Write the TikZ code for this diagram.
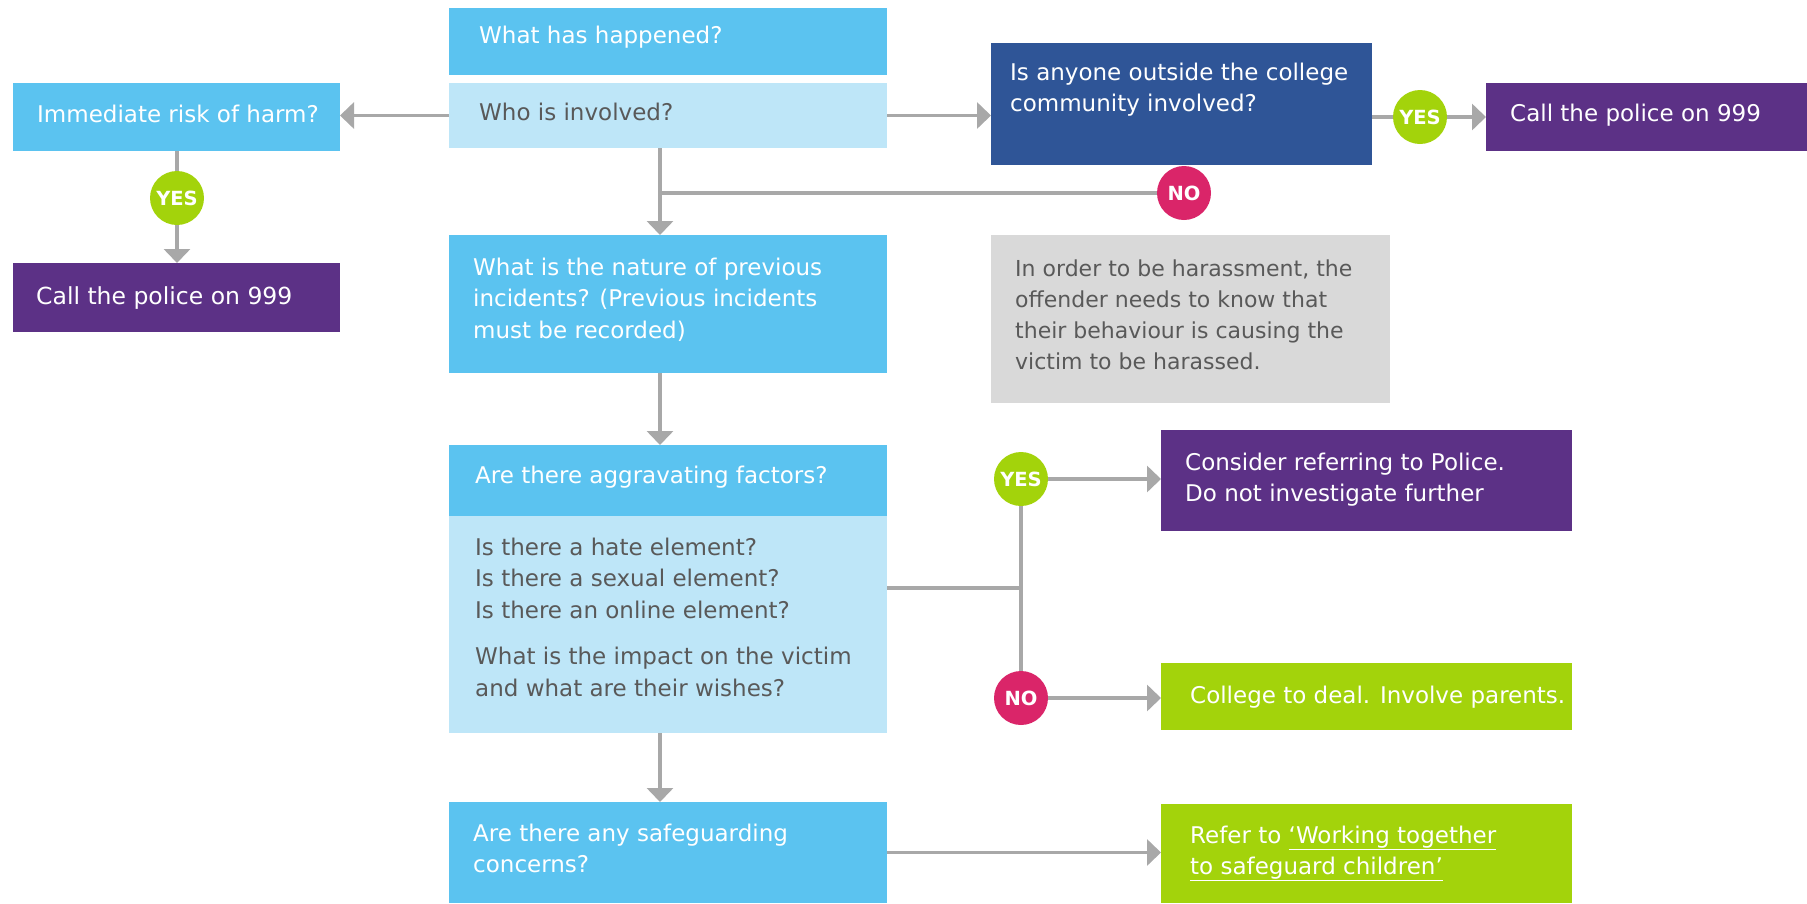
\documentclass[tikz,border=0pt]{standalone}
\usepackage{fontspec}
\setmainfont{DejaVu Sans}
\usetikzlibrary{arrows.meta}
\definecolor{hblue}{HTML}{5BC3F0}
\definecolor{pblue}{HTML}{BEE6F8}
\definecolor{dblue}{HTML}{2F5597}
\definecolor{purp}{HTML}{5C3186}
\definecolor{lgreen}{HTML}{A3D30B}
\definecolor{pink}{HTML}{DA2569}
\definecolor{gbox}{HTML}{D9D9D9}
\definecolor{lgray}{HTML}{A8A8A8}
\definecolor{tgray}{HTML}{595959}
\begin{document}
\begin{tikzpicture}[x=1pt,y=-1pt,
  box/.style={rectangle, anchor=north west, inner sep=0pt, outer sep=0pt, draw=none},
  txt/.style={anchor=base west, inner sep=0pt, align=left, font=\fontsize{23}{31.5}\selectfont},
  wtxt/.style={txt, text=white},
  gtxt/.style={txt, text=tgray},
  badge/.style={circle, minimum size=54pt, inner sep=0pt, outer sep=0pt, text=white, font=\bfseries\fontsize{19.5}{19.5}\selectfont},
  conn/.style={draw=lgray, line width=3.3pt},
  arr/.style={conn, -{Triangle[length=14pt,width=26pt]}},
]
\useasboundingbox (0,0) rectangle (1807,903);

% boxes
\node[box, fill=hblue, minimum width=438pt, minimum height=67pt] (happened) at (449,8) {};
\node[box, fill=pblue, minimum width=438pt, minimum height=65pt] (who) at (449,83) {};
\node[box, fill=hblue, minimum width=327pt, minimum height=68pt] (imm) at (13,83) {};
\node[box, fill=purp, minimum width=327pt, minimum height=69pt] (callL) at (13,263) {};
\node[box, fill=dblue, minimum width=381pt, minimum height=122pt] (outside) at (991,43) {};
\node[box, fill=purp, minimum width=321pt, minimum height=68pt] (callR) at (1486,83) {};
\node[box, fill=hblue, minimum width=438pt, minimum height=138pt] (nature) at (449,235) {};
\node[box, fill=gbox, minimum width=399pt, minimum height=168pt] (gray) at (991,235) {};
\node[box, fill=hblue, minimum width=438pt, minimum height=71pt] (aggH) at (449,445) {};
\node[box, fill=pblue, minimum width=438pt, minimum height=217pt] (aggB) at (449,516) {};
\node[box, fill=hblue, minimum width=438pt, minimum height=101pt] (safe) at (449,802) {};
\node[box, fill=purp, minimum width=411pt, minimum height=101pt] (consider) at (1161,430) {};
\node[box, fill=lgreen, minimum width=411pt, minimum height=67pt] (college) at (1161,663) {};
\node[box, fill=lgreen, minimum width=411pt, minimum height=99pt] (refer) at (1161,804) {};

% texts (multi-line nodes are placed by the baseline of their last line)
\node[wtxt] (happened-t) at (479,43) {What has happened?};
\node[gtxt] (who-t) at (479,120) {Who is involved?};
\node[wtxt] (imm-t) at (37,122) {Immediate risk of harm?};
\node[wtxt, font=\fontsize{23.5}{31.5}\selectfont] (callL-t) at (36,304) {Call the police on 999};
\node[wtxt] (outside-t) at (1010,111.5) {Is anyone outside the college\\community involved?};
\node[wtxt] (callR-t) at (1510,121) {Call the police on 999};
\node[wtxt] (nature-t) at (473,338) {What is the nature of previous\\incidents? (Previous incidents\\must be recorded)};
\node[gtxt, font=\fontsize{22}{31}\selectfont] (gray-t) at (1015,369) {In order to be harassment, the\\offender needs to know that\\their behaviour is causing the\\victim to be harassed.};
\node[wtxt] (aggH-t) at (475,483) {Are there aggravating factors?};
\node[gtxt] (aggB-t) at (475,696) {Is there a hate element?\\Is there a sexual element?\\Is there an online element?\\[15pt]What is the impact on the victim\\and what are their wishes?};
\node[wtxt] (safe-t) at (473,872.5) {Are there any safeguarding\\concerns?};
\node[wtxt] (consider-t) at (1185,501.5) {Consider referring to Police.\\Do not investigate further};
\node[wtxt] (college-t) at (1190,703) {College to deal. Involve parents.};
\node[wtxt] (refer-t) at (1190,874.5) {Refer to \underline{‘Working together}\\\underline{to safeguard children’}};

% badges
\node[badge, fill=lgreen] (yes1) at (177,198) {YES};
\node[badge, fill=lgreen] (yes2) at (1420,117) {YES};
\node[badge, fill=pink] (no1) at (1184,193) {NO};
\node[badge, fill=lgreen] (yes3) at (1021,479) {YES};
\node[badge, fill=pink] (no3) at (1021,698) {NO};

\coordinate (br1) at (660,193);
\coordinate (br2) at (1021,588);

% connectors
\draw[arr] (who.west) -- (who.west -| imm.east);
\draw[arr] (who.east) -- (who.east -| outside.west);
\draw[conn] (outside.east |- yes2.west) -- (yes2.west);
\draw[arr] (yes2.east) -- (yes2.east -| callR.west);
\draw[conn] (imm.south -| yes1) -- (yes1.north);
\draw[arr] (yes1.south) -- (yes1.south |- callL.north);
\draw[conn] (br1) -- (no1.west);
\draw[arr] (who.south -| br1) -- (nature.north -| br1);
\draw[arr] (nature.south -| br1) -- (aggH.north -| br1);
\draw[arr] (aggB.south -| br1) -- (safe.north -| br1);
\draw[conn] (aggB.east |- br2) -- (br2);
\draw[conn] (yes3.south) -- (no3.north);
\draw[arr] (yes3.east) -- (yes3.east -| consider.west);
\draw[arr] (no3.east) -- (no3.east -| college.west);
\draw[arr] (safe.east) -- (safe.east -| refer.west);
\end{tikzpicture}
\end{document}
